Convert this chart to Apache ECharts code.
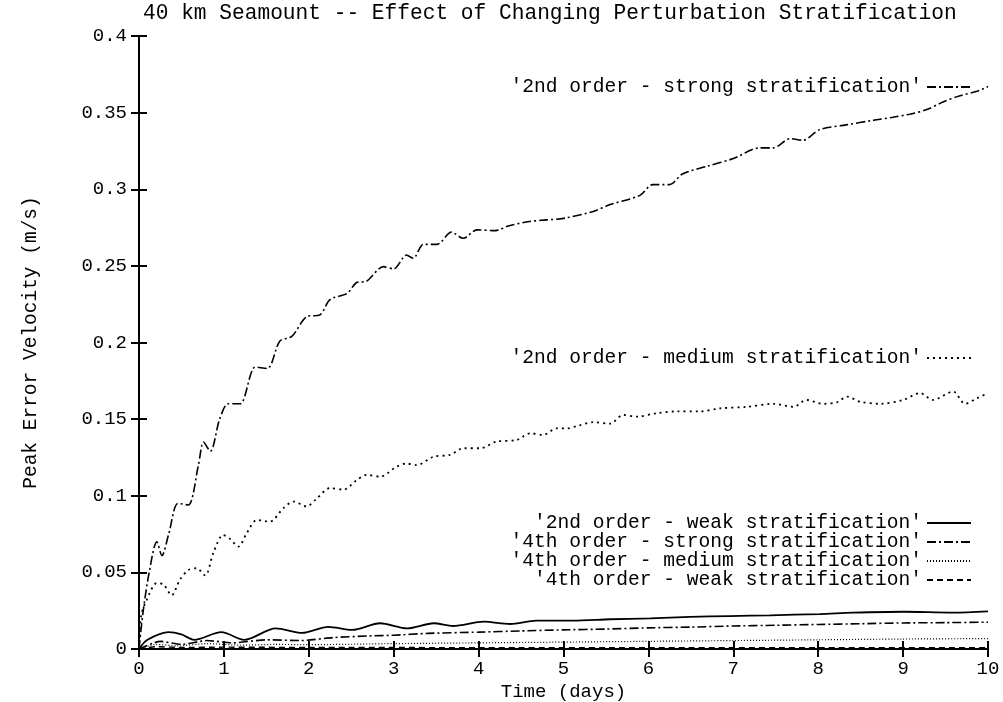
<!DOCTYPE html>
<html>
<head>
<meta charset="utf-8">
<script src="https://cdn.jsdelivr.net/npm/echarts@6/dist/echarts.min.js"></script>
<style>
html,body{margin:0;padding:0;background:#fff;}
#chart{width:1003px;height:702px;}
</style>
</head>
<body>
<div id="chart"></div>
<script>
// ---- data ----
var titleText = "40 km Seamount -- Effect of Changing Perturbation Stratification";
var xLabel = "Time (days)";
var yLabel = "Peak Error Velocity (m/s)";
var seriesNames = [
  "'2nd order - strong stratification'",
  "'2nd order - medium stratification'",
  "'2nd order - weak stratification'",
  "'4th order - strong stratification'",
  "'4th order - medium stratification'",
  "'4th order - weak stratification'"
];

var strong2T = [0,0.05,0.12,0.21,0.27,0.35,0.46,0.58,0.7,0.76,0.84,0.95,1.05,1.19,1.37,1.51,1.66,1.8,1.98,2.13,2.25,2.45,2.56,2.68,2.88,3.0,3.15,3.23,3.35,3.51,3.68,3.82,3.98,4.2,4.35,4.6,4.8,5.0,5.35,5.55,5.9,6.05,6.25,6.4,6.69,7.0,7.31,7.47,7.67,7.82,8.02,8.33,8.65,8.88,9.08,9.28,9.47,9.67,9.87,10];
var strong2V = [0,0.025,0.05,0.070,0.061,0.075,0.095,0.094,0.12,0.135,0.129,0.150,0.160,0.160,0.184,0.183,0.201,0.204,0.217,0.218,0.228,0.232,0.239,0.240,0.2495,0.248,0.257,0.255,0.264,0.264,0.272,0.268,0.2735,0.273,0.276,0.279,0.280,0.281,0.2855,0.29,0.296,0.303,0.303,0.31,0.315,0.32,0.327,0.327,0.333,0.332,0.339,0.342,0.345,0.347,0.349,0.352,0.357,0.361,0.364,0.367];

var medium2T = [0,0.03,0.09,0.21,0.29,0.385,0.48,0.58,0.68,0.78,0.875,0.99,1.07,1.17,1.27,1.39,1.54,1.70,1.82,1.975,2.09,2.25,2.41,2.56,2.68,2.84,3.035,3.15,3.27,3.47,3.66,3.82,4.02,4.21,4.45,4.61,4.76,4.92,5.04,5.19,5.35,5.55,5.70,5.86,6.10,6.33,6.61,6.84,7.16,7.47,7.71,7.86,8.06,8.22,8.34,8.49,8.73,9.0,9.2,9.35,9.59,9.73,9.87,10];
var medium2V = [0.005,0.023,0.032,0.043,0.042,0.035,0.045,0.0515,0.0527,0.048,0.0625,0.0744,0.072,0.0668,0.0757,0.0842,0.0831,0.0918,0.0962,0.093,0.098,0.105,0.104,0.110,0.1136,0.1125,0.119,0.121,0.120,0.1255,0.1266,0.131,0.131,0.1353,0.1364,0.1408,0.1397,0.144,0.144,0.146,0.148,0.147,0.1527,0.1516,0.1539,0.155,0.155,0.157,0.158,0.160,0.158,0.1625,0.160,0.161,0.1647,0.1614,0.160,0.1625,0.167,0.1625,0.168,0.160,0.1636,0.167];

var weak2T = [0,0.1,0.35,0.5,0.65,0.97,1.24,1.61,1.92,2.23,2.51,2.84,3.16,3.47,3.70,4.06,4.37,4.68,5.11,5.55,6.02,6.49,6.96,7.43,8.02,8.41,9.0,9.59,10];
var weak2V = [0,0.006,0.011,0.0095,0.006,0.011,0.006,0.0135,0.0105,0.0145,0.0125,0.0168,0.0135,0.0168,0.015,0.0178,0.0163,0.0185,0.0185,0.0194,0.020,0.021,0.0215,0.022,0.0228,0.0237,0.0243,0.0237,0.0245];

var strong4T = [0,0.25,0.5,0.8,1.1,1.5,1.9,2.3,2.7,3.0,3.4,4,4.5,5,5.5,6,6.5,7,7.5,8,8.5,9,9.5,10];
var strong4V = [0,0.005,0.003,0.0055,0.004,0.006,0.0055,0.0075,0.0085,0.009,0.0102,0.011,0.0118,0.0125,0.013,0.0138,0.0143,0.015,0.0155,0.016,0.0165,0.017,0.0172,0.0175];

var medium4T = [0,0.2,0.45,0.8,1.2,1.6,2,3,4,5,6,7,8,9,10];
var medium4V = [0,0.003,0.002,0.0035,0.0025,0.003,0.0028,0.0035,0.004,0.0045,0.005,0.0055,0.006,0.0065,0.0068];

var weak4T = [0,0.2,0.5,1,2,4,6,8,10];
var weak4V = [0,0.0015,0.001,0.0012,0.001,0.0009,0.0008,0.0008,0.0008];

// ---- build ----
function zip(t, v){ return t.map(function(x,i){ return [x, v[i]]; }); }
var FONT = "'Liberation Mono', 'DejaVu Sans Mono', monospace";

var styles = [
  {type:[9,3,2,3], width:1.6, smooth:0.3},
  {type:[2,4], width:1.8, smooth:0.3},
  {type:'solid', width:1.8, smooth:0.3},
  {type:[9,3,2,3], width:1.6, smooth:0.2},
  {type:[1,2], width:1.2, smooth:0.2},
  {type:[6,4], width:1.4, smooth:0.2}
];
var datasets = [zip(strong2T,strong2V), zip(medium2T,medium2V), zip(weak2T,weak2V),
                zip(strong4T,strong4V), zip(medium4T,medium4V), zip(weak4T,weak4V)];

var series = seriesNames.map(function(n,i){
  return {
    name:n, type:'line', data:datasets[i], showSymbol:false, symbol:'none',
    smooth: styles[i].smooth, xAxisIndex:0, yAxisIndex:0,
    lineStyle:{color:'#000', width:styles[i].width, type:styles[i].type},
    itemStyle:{color:'#000'}
  };
});

function mkLegend(top, names){
  return {
    orient:'vertical', align:'right', right:26, itemWidth:44, itemHeight:14, itemGap:-1,
    itemStyle:{opacity:0},
    textStyle:{fontFamily:FONT, fontSize:19.6, color:'#000', lineHeight:18},
    selectedMode:false,
    top: top, data: names
  };
}

var axisLine = {show:true, lineStyle:{color:'#000', width:2}};
var tick = {show:true, inside:true, length:8, lineStyle:{color:'#000', width:2}};

var option = {
  animation:false,
  backgroundColor:'#fff',
  title:{text:titleText, left:138, top:-2,
    textStyle:{fontFamily:FONT, fontSize:21.2, fontWeight:'normal', color:'#000'}},
  grid:{left:139, right:15, top:36, bottom:53, containLabel:false, outerBoundsMode:'none'},
  legend:[
    mkLegend(72, [seriesNames[0]]),
    mkLegend(343, [seriesNames[1]]),
    mkLegend(508, [seriesNames[2], seriesNames[3], seriesNames[4], seriesNames[5]])
  ],
  xAxis:[
    {type:'value', min:0, max:10, interval:1, position:'bottom',
     axisLine:axisLine, axisTick:tick, splitLine:{show:false},
     axisLabel:{fontFamily:FONT, fontSize:19, color:'#000', margin:10},
     name:xLabel, nameLocation:'middle', nameGap:33,
     nameTextStyle:{fontFamily:FONT, fontSize:19, color:'#000'}},
    {type:'value', min:0, max:10, interval:1, position:'top',
     axisLine:axisLine, axisTick:tick, splitLine:{show:false}, axisLabel:{show:false}}
  ],
  yAxis:[
    {type:'value', min:0, max:0.4, interval:0.05, position:'left',
     axisLine:axisLine, axisTick:tick, splitLine:{show:false},
     axisLabel:{fontFamily:FONT, fontSize:19, color:'#000', margin:12,
       formatter:function(v){ return String(parseFloat(v.toFixed(2))); }},
     name:yLabel, nameLocation:'middle', nameGap:98, nameRotate:90,
     nameTextStyle:{fontFamily:FONT, fontSize:19.5, color:'#000'}},
    {type:'value', min:0, max:0.4, interval:0.05, position:'right',
     axisLine:axisLine, axisTick:tick, splitLine:{show:false}, axisLabel:{show:false}}
  ],
  series:series
};

var chart = echarts.init(document.getElementById('chart'), null, {renderer:'canvas'});
chart.setOption(option);
</script>
</body>
</html>
